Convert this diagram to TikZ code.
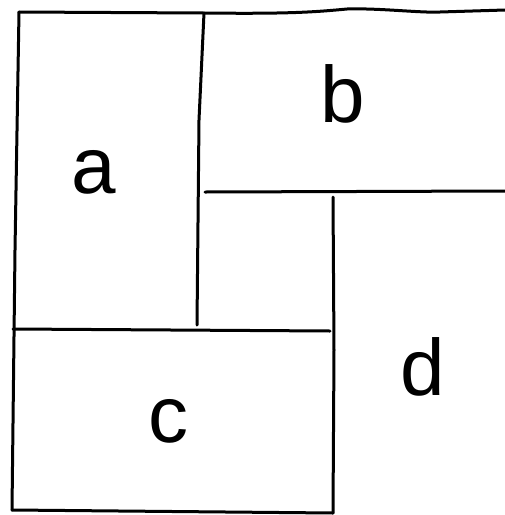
\documentclass[tikz,border=0pt]{standalone}
\usepackage{fontspec}
\setmainfont{Liberation Sans}
\begin{document}
\begin{tikzpicture}[x=1pt,y=-1pt,
  pen/.style={line width=3pt,line cap=round,line join=round,black},
  letter/.style={anchor=base,inner sep=0pt,font=\fontsize{80}{80}\selectfont}]
\useasboundingbox (0,0) rectangle (505,515);
% corners / junctions
\coordinate (tl) at (19,12);
\coordinate (tr) at (505,10);
\coordinate (bl) at (12,510);
\coordinate (br) at (333,513);
\coordinate (v1t) at (204,13);
\coordinate (v1b) at (197,325);
\coordinate (h1l) at (205,192);
\coordinate (h1r) at (505,191);
\coordinate (h2l) at (13,329);
\coordinate (h2r) at (330,331);
\coordinate (v2t) at (333,197);
% outer lines
\draw[pen] (tl) -- (v1t) .. controls (290,14) and (315,12) .. (347,9)
  .. controls (380,8) and (420,13) .. (440,12) -- (tr);
\draw[pen] (tl) -- (15,250) -- (bl);
\draw[pen] (bl) -- (br);
% inner lines
\draw[pen] (v1t) -- (199,120) -- (v1b);
\draw[pen] (h1l) -- (h1r);
\draw[pen] (h2l) -- (h2r);
\draw[pen] (v2t) -- (334,350) -- (br);
% labels
\node[letter] (a) at (94,193) {a};
\node[letter] (b) at (343,122) {b};
\node[letter] (c) at (168,442) {c};
\node[letter] (d) at (423,395) {d};
\end{tikzpicture}
\end{document}
